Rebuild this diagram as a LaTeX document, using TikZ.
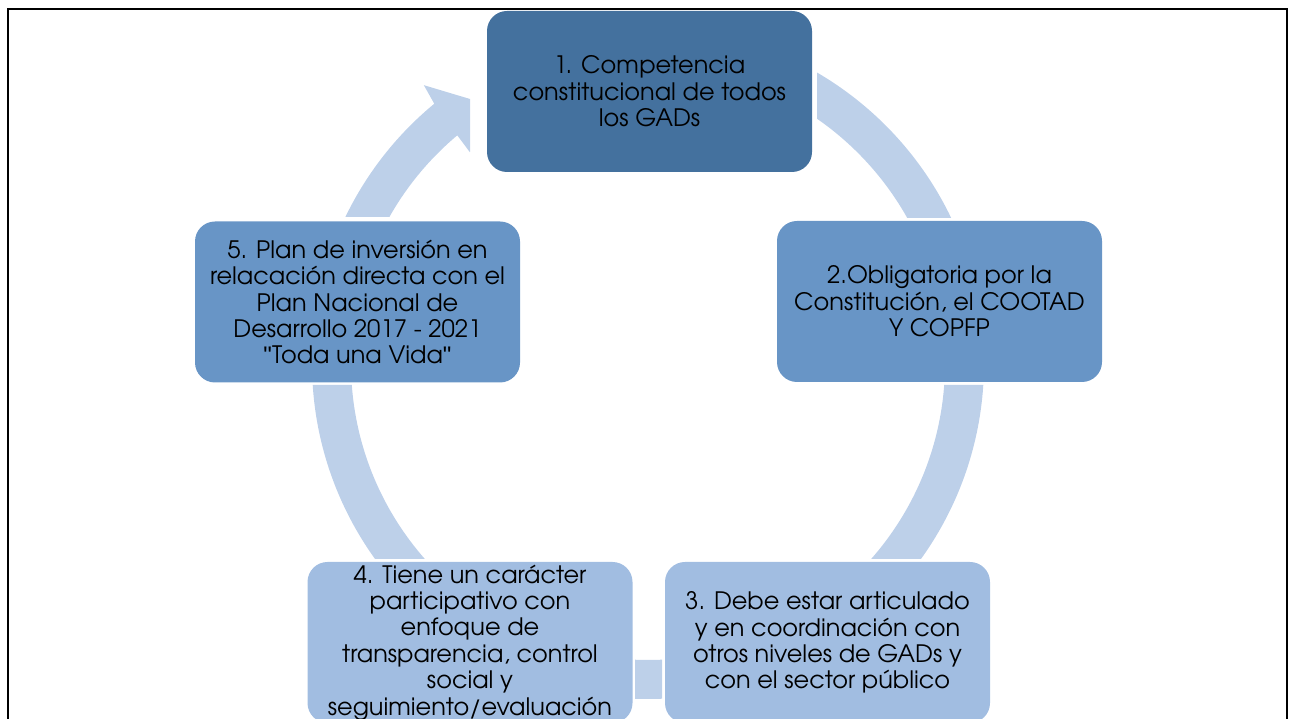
\documentclass[tikz,border=0pt]{standalone}
\usepackage{fontspec}
\setmainfont{texgyreadventor-regular.otf}
\newfontfamily\quotefont{Liberation Sans}
\usetikzlibrary{calc}
\definecolor{ringc}{HTML}{BDD0E9}
\definecolor{boxa}{HTML}{44719E}
\definecolor{boxb}{HTML}{6895C6}
\definecolor{boxc}{HTML}{A1BDE1}
\newcommand{\sq}{{\quotefont\char"0022}}
\begin{document}
\begin{tikzpicture}[x=1pt,y=1pt,
  box/.style={rounded corners=20pt, minimum width=325pt, minimum height=161pt,
    align=center, inner sep=0pt, font=\fontsize{24}{26.4}\selectfont, text=black},
  ring/.style={fill=ringc}]
\useasboundingbox (0,0) rectangle (1296,719);
\clip (0,0) rectangle (1296,719);
\draw[line width=2pt] (8,710) rectangle (1287,-30);
\coordinate (C) at (648,356);
\begin{scope}
\clip (817,501) rectangle (1296,719) (648,160) rectangle (1296,334)
      (0,160) rectangle (648,334) (635,0) rectangle (662,100);
\fill[ring, even odd rule] (C) circle[radius=336] (C) circle[radius=297];
\end{scope}
\begin{scope}
\clip (0,502) rectangle (470,719);
\fill[ring] ($(C)+(165:336)$) arc[start angle=165, end angle=129.5, radius=336]
  -- ($(C)+(128.9:357)$) -- (490,614) -- ($(C)+(130.2:276)$)
  -- ($(C)+(129.95:297)$) arc[start angle=129.95, end angle=165, radius=297] -- cycle;
\end{scope}
\node[box, fill=boxa] (n1) at (649.5,627.5) {1. Competencia\\constitucional de todos\\los GADs};
\node[box, fill=boxb] (n2) at (939.5,417.5) {2.Obligatoria por la\\Constitución, el COOTAD\\Y COPFP};
\node[box, fill=boxc] (n3) at (827.5,76.5) {3. Debe estar articulado\\y en coordinación con\\otros niveles de GADs y\\con el sector público};
\node[box, fill=boxc] (n4) at (470,76.5) {4. Tiene un carácter\\participativo con\\enfoque de\\transparencia, control\\social y\\seguimiento/evaluación};
\node[box, fill=boxb] (n5) at (357.5,417) {5. Plan de inversión en\\relacación directa con el\\Plan Nacional de\\Desarrollo 2017 - 2021\\\sq Toda una Vida\sq};
\end{tikzpicture}
\end{document}
